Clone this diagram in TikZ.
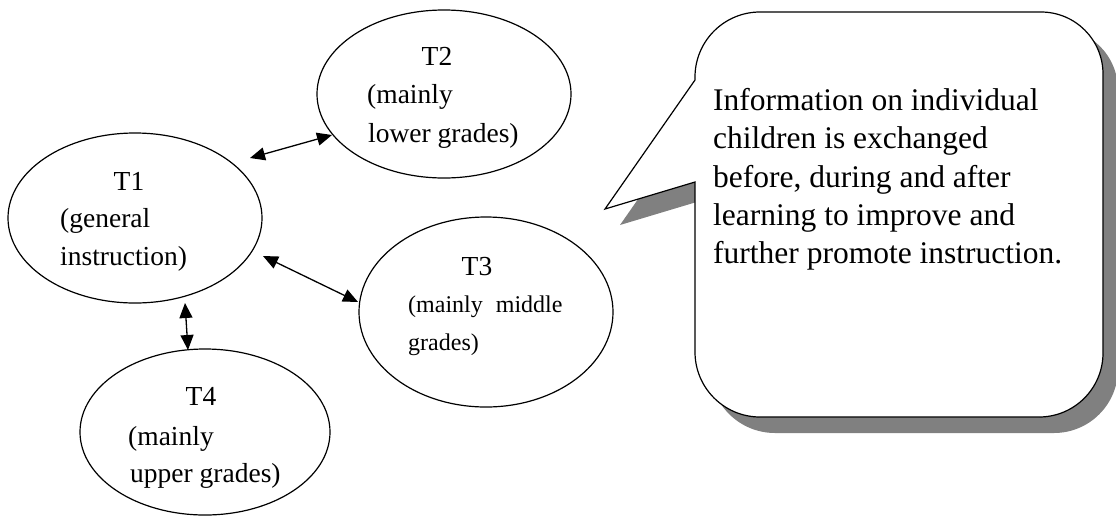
\documentclass[tikz,border=0pt]{standalone}
\usepackage{fontspec}
\setmainfont{Liberation Serif}
\usetikzlibrary{shapes.geometric,arrows.meta}
\definecolor{shadowgray}{HTML}{808080}
\begin{document}
\begin{tikzpicture}[x=1pt,y=-1pt,
  ell/.style={draw,ellipse,line width=1.2pt,inner sep=0pt},
  lbl/.style={inner sep=0pt,font=\fontsize{27.5}{33}\selectfont},
  sml/.style={inner sep=0pt,font=\fontsize{24}{29}\selectfont},
  bubbletext/.style={inner sep=0pt,anchor=base west,font=\fontsize{31.5}{38}\selectfont},
  biarrow/.style={{Triangle[length=15pt,width=13pt]}-{Triangle[length=15pt,width=13pt]},line width=1.3pt},
  bubble/.style={line width=1.2pt,draw=black,fill=white}]
\useasboundingbox (0,0) rectangle (1116,515);

% ellipses
\node[ell,minimum width=254pt,minimum height=170pt] (t1) at (135,218) {};
\node[ell,minimum width=254pt,minimum height=168pt] (t2) at (444,94) {};
\node[ell,minimum width=254pt,minimum height=190pt] (t3) at (486,312) {};
\node[ell,minimum width=250pt,minimum height=166pt] (t4) at (205,432) {};

% labels
\node[lbl,anchor=base] (t1a) at (129,190) {T1};
\node[lbl,anchor=base west] (t1b) at (60,227) {(general};
\node[lbl,anchor=base west] (t1c) at (60,265) {instruction)};

\node[lbl,anchor=base] (t2a) at (437,65) {T2};
\node[lbl,anchor=base west] (t2b) at (367,103) {(mainly};
\node[lbl,anchor=base west] (t2c) at (368,142) {lower grades)};

\node[lbl,anchor=base] (t3a) at (477,275) {T3};
\node[sml,anchor=base west] (t3b) at (408,312) {(mainly\hspace{13pt}middle};
\node[sml,anchor=base west] (t3c) at (408,350) {grades)};

\node[lbl,anchor=base] (t4a) at (201,405) {T4};
\node[lbl,anchor=base west] (t4b) at (128,445) {(mainly};
\node[lbl,anchor=base west] (t4c) at (130,482) {upper grades)};

% connectors
\coordinate (a12) at (250,158);
\coordinate (b12) at (332,135);
\coordinate (a13) at (263,256);
\coordinate (b13) at (358,302);
\coordinate (a14) at (185,303);
\coordinate (b14) at (188,350);
\draw[biarrow] (a12) -- (b12);
\draw[biarrow] (a13) -- (b13);
\draw[biarrow] (a14) -- (b14);

% callout shadow
\fill[shadowgray] (710,96) -- (620,225) -- (710,198) -- (710,368)
  arc[start angle=180,end angle=90,radius=65] -- (1054,433)
  arc[start angle=90,end angle=0,radius=64] -- (1118,90)
  arc[start angle=0,end angle=-90,radius=62] -- (775,28)
  arc[start angle=-90,end angle=-180,radius=65] -- cycle;
% callout
\path[bubble] (695,80) -- (605,209) -- (695,182) -- (695,352)
  arc[start angle=180,end angle=90,radius=65] -- (1039,417)
  arc[start angle=90,end angle=0,radius=64] -- (1103,74)
  arc[start angle=0,end angle=-90,radius=62] -- (760,12)
  arc[start angle=-90,end angle=-180,radius=65] -- cycle;

\node[bubbletext] (c1) at (713,110) {Information on individual};
\node[bubbletext] (c2) at (713,148) {children is exchanged};
\node[bubbletext] (c3) at (713,187) {before, during and after};
\node[bubbletext] (c4) at (713,225) {learning to improve and};
\node[bubbletext] (c5) at (713,263) {further promote instruction.};
\end{tikzpicture}
\end{document}
